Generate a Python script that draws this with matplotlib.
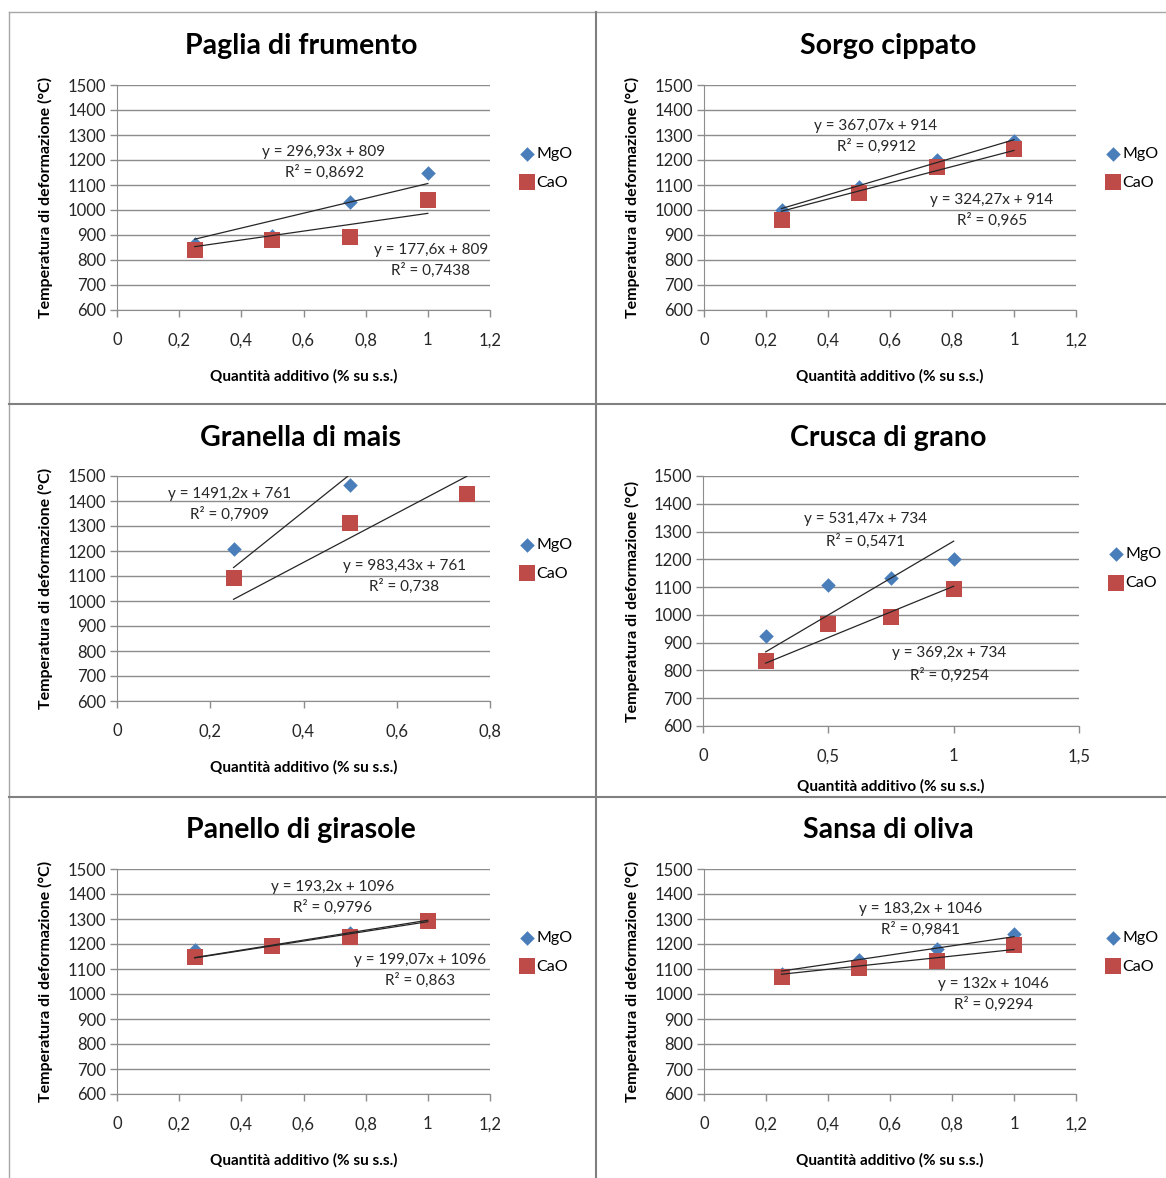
import matplotlib
matplotlib.use("Agg")
import matplotlib.pyplot as plt
from matplotlib.lines import Line2D
from matplotlib.ticker import FuncFormatter

plt.rcParams["font.family"] = ["Lato", "DejaVu Sans"]

# --- data -----------------------------------------------------------------
titles = ["Paglia di frumento", "Sorgo cippato", "Granella di mais",
          "Crusca di grano", "Panello di girasole", "Sansa di oliva"]

x_paglia = [0.25, 0.5, 0.75, 1.0]
mgo_paglia = [865, 895, 1030, 1148]
cao_paglia = [840, 880, 892, 1040]

x_sorgo = [0.25, 0.5, 0.75, 1.0]
mgo_sorgo = [1000, 1090, 1200, 1276]
cao_sorgo = [960, 1068, 1172, 1244]

x_mais_mgo = [0.25, 0.5]
mgo_mais = [1208, 1466]
x_mais_cao = [0.25, 0.5, 0.75]
cao_mais = [1092, 1312, 1430]

x_crusca = [0.25, 0.5, 0.75, 1.0]
mgo_crusca = [924, 1106, 1132, 1200]
cao_crusca = [834, 966, 992, 1094]

x_girasole = [0.25, 0.5, 0.75, 1.0]
mgo_girasole = [1175, 1195, 1245, 1292]
cao_girasole = [1150, 1194, 1230, 1292]

x_oliva = [0.25, 0.5, 0.75, 1.0]
mgo_oliva = [1082, 1136, 1180, 1240]
cao_oliva = [1068, 1104, 1134, 1196]

# trendline (slope, intercept) as printed on the chart
fit_mgo = [(296.93, 809), (367.07, 914), (1491.2, 761),
           (531.47, 734), (193.2, 1096), (183.2, 1046)]
fit_cao = [(177.6, 809), (324.27, 914), (983.43, 761),
           (369.2, 734), (199.07, 1096), (132.0, 1046)]
r2_mgo = ["0,8692", "0,9912", "0,7909", "0,5471", "0,9796", "0,9841"]
r2_cao = ["0,7438", "0,965", "0,738", "0,9254", "0,863", "0,9294"]

series = [
    (x_paglia, mgo_paglia, x_paglia, cao_paglia),
    (x_sorgo, mgo_sorgo, x_sorgo, cao_sorgo),
    (x_mais_mgo, mgo_mais, x_mais_cao, cao_mais),
    (x_crusca, mgo_crusca, x_crusca, cao_crusca),
    (x_girasole, mgo_girasole, x_girasole, cao_girasole),
    (x_oliva, mgo_oliva, x_oliva, cao_oliva),
]
x_max = [1.2, 1.2, 0.8, 1.5, 1.2, 1.2]
x_step = [0.2, 0.2, 0.2, 0.5, 0.2, 0.2]

# --- layout (pixels) -------------------------------------------------------
W, H = 1166, 1178
# plot area left, right, top, bottom in pixels
boxes = [(117, 490, 85, 310), (704, 1076, 85, 310),
         (117, 490, 476, 701), (703, 1079, 476, 726),
         (117, 490, 869, 1094), (704, 1076, 869, 1094)]
# label positions: (x, y) data coordinates for equation of MgO and CaO
eq_pos = [((0.666, 1232), (1.010, 840)),
          ((0.555, 1336), (0.929, 1040)),
          ((0.242, 1428), (0.616, 1140)),
          ((0.649, 1345), (0.983, 863)),
          ((0.692, 1428), (0.975, 1136)),
          ((0.697, 1340), (0.935, 1040))]
xlabel_pad = [15, 15, 15, 11, 15, 15]
panel_cx = [301, 888]
title_y = [46, 438, 830]

MGO_C = "#4a7ebb"
CAO_C = "#be4b48"
GRID_C = "#8c8c8c"


def fmt_it(v, pos):
    s = f"{v:g}"
    return s.replace(".", ",")


def eq_text(m, q):
    return f"y = {m:g}x + {q:g}".replace(".", ",")


fig = plt.figure(figsize=(W / 100, H / 100), dpi=100)

for i in range(6):
    l, r, t, b = boxes[i]
    ax = fig.add_axes([l / W, 1 - b / H, (r - l) / W, (b - t) / H])
    xm, ym, xc, yc = series[i]

    ax.set_xlim(0, x_max[i])
    ax.set_ylim(600, 1500)
    ax.set_yticks(range(600, 1501, 100))
    n = int(round(x_max[i] / x_step[i]))
    ax.set_xticks([k * x_step[i] for k in range(n + 1)])
    ax.xaxis.set_major_formatter(FuncFormatter(fmt_it))

    ax.grid(axis="y", color=GRID_C, lw=1.0)
    ax.set_axisbelow(True)
    for s in ["top", "right"]:
        ax.spines[s].set_visible(False)
    ax.spines["left"].set_color(GRID_C)
    ax.spines["bottom"].set_color(GRID_C)
    ax.tick_params(axis="both", colors=GRID_C, labelcolor="#262626",
                   labelsize=12, length=5, width=1)
    ax.tick_params(axis="x", pad=11)
    ax.tick_params(axis="y", pad=3)

    ax.scatter(xm, ym, marker="D", s=55, color=MGO_C, zorder=3, label="MgO",
               linewidths=0)
    ax.scatter(xc, yc, marker="s", s=120, color=CAO_C, zorder=4, label="CaO",
               linewidths=0)

    # trendlines across the data range
    m, q = fit_mgo[i]
    ax.plot([xm[0], xm[-1]], [m * xm[0] + q, m * xm[-1] + q],
            color="#262626", lw=0.9, zorder=5)
    m2, q2 = fit_cao[i]
    ax.plot([xc[0], xc[-1]], [m2 * xc[0] + q2, m2 * xc[-1] + q2],
            color="#262626", lw=0.9, zorder=5)

    (ex1, ey1), (ex2, ey2) = eq_pos[i]
    step = 80 if i != 3 else 79
    ax.text(ex1, ey1, eq_text(m, q), ha="center", va="center", fontsize=11,
            color="#262626", zorder=6)
    ax.text(ex1, ey1 - step, f"R² = {r2_mgo[i]}", ha="center", va="center",
            fontsize=11, color="#262626", zorder=6)
    ax.text(ex2, ey2, eq_text(m2, q2), ha="center", va="center", fontsize=11,
            color="#262626", zorder=6)
    ax.text(ex2, ey2 - step, f"R² = {r2_cao[i]}", ha="center", va="center",
            fontsize=11, color="#262626", zorder=6)

    ax.set_ylabel("Temperatura di deformazione (°C)", fontsize=11.5,
                  fontweight="bold", labelpad=10)
    ax.set_xlabel("Quantità additivo (% su s.s.)", fontsize=11,
                  fontweight="bold", labelpad=xlabel_pad[i])

    ax.legend(loc="center left", bbox_to_anchor=(1.06, 0.63), frameon=False,
              fontsize=11.5, handletextpad=0.1, handlelength=1.0,
              labelspacing=0.9, borderaxespad=0)

    fig.text(panel_cx[i % 2] / W, 1 - title_y[i // 2] / H, titles[i],
             ha="center", va="center", fontsize=20.5, fontweight="bold")

# panel borders
BORDER = "#a6a6a6"


def fline(x0, y0, x1, y1, c=BORDER, lw=1.0):
    fig.add_artist(Line2D([x0 / W, x1 / W], [1 - y0 / H, 1 - y1 / H],
                          color=c, lw=lw))


fline(9, 12, W, 12)
fline(9, 12, 9, H)
fline(9, 404, W, 404, c="#808080", lw=1.5)
fline(9, 797, W, 797, c="#808080", lw=1.5)
fline(596, 12, 596, H, c="#808080", lw=1.5)

fig.savefig("out.png", dpi=100)
